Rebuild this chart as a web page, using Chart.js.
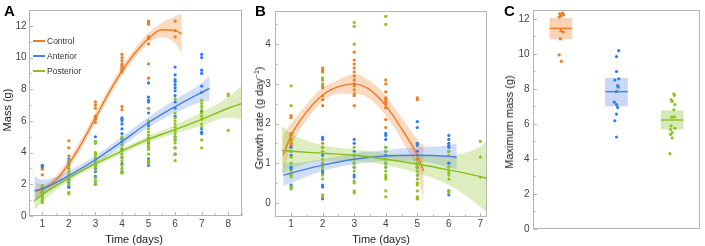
<!DOCTYPE html>
<html><head><meta charset="utf-8">
<script src="https://cdn.jsdelivr.net/npm/chart.js@4.4.1/dist/chart.umd.min.js"></script>
<style>
html,body{margin:0;padding:0;background:#fff;width:705px;height:246px;overflow:hidden;font-family:"Liberation Sans",Arial,sans-serif;color:#222;}
canvas{position:absolute;top:0;}
.letter{position:absolute;font-weight:bold;font-size:15px;line-height:15px;color:#000;}
.ytitle{position:absolute;font-size:11px;line-height:12px;white-space:nowrap;transform:translate(-50%,-50%) rotate(-90deg);color:#222;}
.xtitle{position:absolute;font-size:11px;line-height:12px;white-space:nowrap;transform:translate(-50%,-50%);color:#222;}
.ytitle sup{font-size:7px;vertical-align:4px;line-height:0;}
.leg{position:absolute;font-size:8.5px;line-height:10px;color:#333;white-space:nowrap;}
.leg span{position:absolute;left:-14px;top:4px;width:12px;height:2px;}
</style></head>
<body>
<canvas id="cA" width="246" height="246" style="left:0"></canvas>
<canvas id="cB" width="246" height="246" style="left:246px"></canvas>
<canvas id="cC" width="213" height="246" style="left:492px"></canvas>

<div class="letter" style="left:4px;top:2.5px">A</div>
<div class="letter" style="left:255px;top:2.5px">B</div>
<div class="letter" style="left:504px;top:2.5px">C</div>

<div class="ytitle" style="left:7px;top:110px">Mass (g)</div>
<div class="xtitle" style="left:134px;top:239px">Time (days)</div>
<div class="ytitle" style="left:259px;top:118px">Growth rate (g day<sup>−1</sup>)</div>
<div class="xtitle" style="left:381px;top:239px">Time (days)</div>
<div class="ytitle" style="left:509px;top:122px">Maximum mass (g)</div>

<div class="leg" style="left:47px;top:36px"><span style="background:#ee7b22"></span>Control</div>
<div class="leg" style="left:47px;top:51px"><span style="background:#4a7fdf"></span>Anterior</div>
<div class="leg" style="left:47px;top:66px"><span style="background:#8cc220"></span>Posterior</div>

<script>
// ---------- Panel A: mass by day ----------
const daysA = [1,2,3,4,5,6,7,8];
const massControl = [
  [3.05,2.95,2.6,1.8,1.7,1.6,1.5],
  [4.75,4.3,3.8,3.5,3.3,3.2],
  [7.2,7.0,6.8,6.3,6.2,6.1,5.9,3.9],
  [10.2,10.0,9.8,9.6,9.5,9.4,9.3,9.2,9.1,6.9,6.7],
  [12.3,12.2,12.1,11.3,11.2,10.85,9.6,8.7],
  [12.3,11.7,11.3],
  [],
  []
];
const massAnterior = [
  [3.2,3.1,1.9,1.7,1.5,1.3],
  [3.6,3.4,3.0,2.6,2.3,2.1,1.9,1.8],
  [5.0,4.7,4.6,3.6,3.3,3.0,2.8,2.5,2.2,2.0],
  [6.2,6.1,6.0,5.8,5.5,5.2,4.9,4.7,4.5,4.2,3.7,3.3,2.8],
  [8.4,7.5,7.3,7.2,6.8,6.5,5.9,5.7,4.9,4.6,3.6,3.4,3.2],
  [9.4,8.9,8.6,8.5,8.3,8.1,7.9,7.6,7.2,6.8,6.3,5.0,4.8,4.3,3.9],
  [10.2,10.0,9.2,9.0,8.2,7.8,6.6,5.5,5.3,5.2],
  []
];
const massPosterior = [
  [1.9,1.8,1.7,1.6,1.5,1.4,1.3,1.2,1.1,1.0,0.9,0.85],
  [3.5,3.2,3.0,2.8,2.6,2.4,2.2,2.0,1.5,1.4],
  [4.7,4.6,4.0,3.9,3.7,3.5,3.2,3.1,2.9,2.4,2.2,2.0],
  [5.0,4.8,4.5,4.3,4.1,3.9,3.7,3.5,3.2,3.0,2.8,2.7],
  [6.8,6.0,5.5,5.3,5.1,4.9,4.7,4.5,4.4,4.3,4.2,3.9,3.5,3.3],
  [7.4,6.5,6.2,6.0,5.8,5.6,5.4,5.2,5.0,4.8,4.6,4.3,3.9,3.5],
  [7.3,7.1,6.9,6.7,6.5,6.3,6.1,5.8,5.6,4.8,4.3],
  [7.7,7.6,5.4]
];
// fitted curves and confidence bands
const fitAControlX = [0.75,1,1.5,2,2.5,3,3.5,4,4.5,5,5.5,6,6.25];
const fitAControl  = [1.55,1.7,2.25,3.3,4.65,6.2,7.75,9.15,10.3,11.2,11.75,11.7,11.5];
const loAControl   = [1.05,1.4,1.95,3.0,4.35,5.9,7.45,8.85,10.0,10.9,11.3,10.9,10.3];
const hiAControl   = [2.1,2.0,2.5,3.6,4.95,6.5,8.05,9.45,10.6,11.55,12.2,12.6,12.8];
const fitAAnteriorX = [0.7,1,1.5,2,3,4,5,6,7,7.3];
const fitAAnterior  = [1.6,1.72,2.1,2.55,3.55,4.7,5.9,6.9,7.8,8.05];
const loAAnterior   = [0.95,1.25,1.8,2.3,3.3,4.4,5.6,6.5,7.2,7.25];
const hiAAnterior   = [2.5,2.3,2.45,2.85,3.8,5.0,6.25,7.35,8.4,8.85];
const fitAPosteriorX = [0.7,1,2,3,4,5,6,7,8,8.5];
const fitAPosterior  = [0.95,1.35,2.4,3.3,4.1,4.85,5.45,6.1,6.8,7.1];
const loAPosterior   = [0.35,0.9,2.2,3.12,3.93,4.65,5.2,5.7,6.2,6.1];
const hiAPosterior   = [1.6,1.75,2.6,3.5,4.28,5.05,5.75,6.55,7.5,8.2];

// ---------- Panel B: growth rate by day ----------
const daysB = [1,2,3,4,5,6,7];
const rateControl = [
  [2.2,2.15,1.75,1.7,1.6,1.5,1.45],
  [3.4,3.35,3.3,3.1,2.95,2.9,2.7,2.6,2.45,1.5],
  [3.8,3.6,3.5,3.4,3.3,3.2,3.1,3.0,2.95,2.85,2.75,2.7,2.45],
  [3.1,3.0,2.8,2.65,2.6,2.55,2.5,2.4,2.1,1.9],
  [2.65,2.6,1.1,1.0,0.5,0.1],
  [],
  []
];
const rateAnterior = [
  [1.4,1.3,1.2,0.9,0.85,0.7,0.45,0.4],
  [1.65,1.6,1.4,1.2,1.0,0.8,0.75,0.45,0.4,0.1],
  [1.6,1.5,1.3,1.2,1.0,0.9,0.7,0.65],
  [1.75,1.7,1.6,1.4,1.3,1.2,1.0,0.9],
  [2.05,1.9,1.5,1.45,1.3,1.2,1.0,0.9,0.7],
  [1.7,1.6,1.5,1.45,1.4,1.3,1.0,0.3,0.2],
  []
];
const ratePosterior = [
  [2.95,2.45,1.7,1.55,1.3,1.15,1.0,0.8,0.7,0.65,0.4,0.35],
  [3.15,3.0,1.4,1.3,1.1,1.0,0.9,0.85,0.7,0.6,0.2,0.15],
  [4.55,4.45,4.0,1.4,1.2,1.1,1.0,0.9,0.8,0.55,0.5,0.3,0.25],
  [4.7,4.5,1.4,1.3,1.1,1.0,0.9,0.8,0.7,0.65,0.6,0.3,0.15],
  [1.0,0.9,0.8,0.7,0.6,0.5,0.45,0.3,0.15,0.1],
  [1.3,1.2,0.9,0.8,0.75,0.7,0.6,0.3,0.25],
  [1.55,1.15,0.65]
];
const fitBControlX = [0.75,1,1.5,2,2.5,3,3.5,4,4.5,5,5.2];
const fitBControl  = [1.2,1.7,2.3,2.72,2.93,3.0,2.85,2.45,1.87,1.2,0.8];
const loBControl   = [0.75,1.4,2.1,2.55,2.75,2.75,2.62,2.2,1.6,0.75,0.05];
const hiBControl   = [1.75,2.0,2.5,2.9,3.1,3.25,3.08,2.7,2.15,1.6,1.45];
const fitBAnteriorX = [0.75,1,2,3,4,5,6,6.25];
const fitBAnterior  = [0.7,0.75,0.95,1.1,1.18,1.2,1.17,1.15];
const loBAnterior   = [0.42,0.5,0.8,0.97,1.05,1.05,0.9,0.85];
const hiBAnterior   = [1.0,1.0,1.1,1.25,1.33,1.4,1.45,1.5];
const fitBPosteriorX = [0.7,1,2,3,4,5,6,7,7.2];
const fitBPosterior  = [1.32,1.3,1.25,1.2,1.1,0.98,0.83,0.66,0.62];
const loBPosterior   = [0.72,0.85,1.05,1.05,0.95,0.75,0.45,-0.1,-0.25];
const hiBPosterior   = [1.95,1.75,1.45,1.35,1.25,1.2,1.2,1.42,1.55];

// ---------- Panel C: maximum mass ----------
const groups = ['Control','Anterior','Posterior'];
const maxControl   = [12.33,12.28,12.22,12.16,12.1,11.32,11.25,10.85,9.94,9.57];
const jitControl   = [0.03,-0.02,0.05,0.0,-0.03,0.0,0.04,-0.01,-0.03,0.01];
const maxAnterior  = [10.18,9.84,8.99,8.57,8.5,8.19,8.1,7.85,7.24,7.1,6.94,6.56,6.18,5.25];
const jitAnterior  = [0.04,0.0,0.0,0.04,-0.03,0.02,0.03,0.0,-0.04,0.0,0.02,0.0,-0.03,0.0];
const maxPosterior = [7.72,7.62,7.38,7.28,7.1,6.8,6.4,6.38,5.89,5.75,5.68,5.5,5.4,5.2,4.3];
const jitPosterior = [0.03,0.04,-0.02,0.0,0.05,0.03,0.04,-0.01,-0.02,0.05,-0.03,0.0,-0.03,0.0,-0.04];
const boxLow  = [10.85,7.02,5.7];
const boxHigh = [12.02,8.6,6.75];
const boxMid  = [11.45,7.84,6.22];

// ---------- styles ----------
const COL = {
  line:  ['#ee7b22','#4a7fdf','#86c01e'],
  point: ['#f07d21','#2f7df4','#8dc51e'],
  band:  ['rgba(243,150,80,0.35)','rgba(90,135,230,0.28)','rgba(150,200,60,0.32)'],
  box:   ['rgba(243,150,80,0.42)','rgba(90,135,230,0.32)','rgba(150,200,60,0.38)']
};
Chart.defaults.font.family = '"Liberation Sans", Arial, sans-serif';
Chart.defaults.font.size = 10;
Chart.defaults.color = '#444';

const framePlugin = {
  id: 'frame',
  afterDraw(chart, args, opts) {
    const {ctx, chartArea: a} = chart;
    ctx.save();
    ctx.strokeStyle = '#b5b5b5';
    ctx.lineWidth = 1;
    const l = Math.round(a.left) + 0.5, t = Math.round(a.top) + 0.5;
    const r = Math.round(a.right) - 0.5, b = Math.round(a.bottom) - 0.5;
    ctx.strokeRect(l, t, r - l, b - t);
    ctx.beginPath();
    if (opts.xTicks) {
      const sx = chart.scales.x;
      sx.ticks.forEach(tk => {
        const px = Math.round(sx.getPixelForValue(tk.value)) + 0.5;
        const len = tk.label !== '' ? 3.5 : 2;
        ctx.moveTo(px, b); ctx.lineTo(px, b - len);
      });
    }
    const sy = chart.scales.y;
    sy.ticks.forEach(tk => {
      const py = Math.round(sy.getPixelForValue(tk.value)) + 0.5;
      const len = tk.label !== '' ? 3.5 : 2;
      ctx.moveTo(l, py); ctx.lineTo(l + len, py);
    });
    ctx.stroke();
    ctx.restore();
  }
};

function isInt(v){ return Math.abs(v - Math.round(v)) < 1e-6; }
function pts(days, groupsArr){ const out=[]; groupsArr.forEach((vals,i)=>vals.forEach(v=>out.push({x:days[i],y:v}))); return out; }
function xy(xs, ys){ return xs.map((x,i)=>({x:x,y:ys[i]})); }

function bandSets(xs, lo, hi, i){
  return [
    {type:'line', data: xy(xs,hi), borderWidth:0, pointRadius:0, fill:'+1', backgroundColor: COL.band[i], cubicInterpolationMode:'monotone', order: 20 - i},
    {type:'line', data: xy(xs,lo), borderWidth:0, pointRadius:0, fill:false, cubicInterpolationMode:'monotone', order: 20 - i}
  ];
}
function pointSet(data, i){
  return {type:'scatter', data, pointRadius:1.6, pointBackgroundColor: COL.point[i], pointBorderWidth:0, borderWidth:0, order: 10 - i};
}
function lineSet(xs, ys, i){
  return {type:'line', data: xy(xs,ys), borderColor: COL.line[i], borderWidth:1.4, pointRadius:0, fill:false, cubicInterpolationMode:'monotone', order: 3 - i};
}

function baseOptions(cfg){
  return {
    responsive:false, animation:false, events:[],
    layout:{padding:{left:0, top:10, right:cfg.padRight, bottom:0}},
    plugins:{legend:{display:false}, tooltip:{enabled:false}, frame:{xTicks: cfg.xTicks}},
    scales:{
      x:{type:'linear', min:cfg.xmin, max:cfg.xmax, offset:false,
         grid:{display:false, drawTicks:false, offset:false}, border:{display:false},
         ticks:{stepSize:cfg.xstep, includeBounds:false, autoSkip:false, maxRotation:0, padding:cfg.xpad,
                font:{size:cfg.xfont||10}, callback:cfg.xcb},
         afterFit(s){ s.height = cfg.xh; }},
      y:{type:'linear', min:cfg.ymin, max:cfg.ymax,
         grid:{display:false, drawTicks:false}, border:{display:false},
         ticks:{stepSize:cfg.ystep, includeBounds:false, autoSkip:false, padding:cfg.ypad, callback:cfg.ycb},
         afterFit(s){ s.width = cfg.yw; }}
    }
  };
}

// Panel A
new Chart(document.getElementById('cA'), {
  type:'scatter',
  data:{datasets:[
    ...bandSets(fitAControlX, loAControl, hiAControl, 0),
    ...bandSets(fitAAnteriorX, loAAnterior, hiAAnterior, 1),
    ...bandSets(fitAPosteriorX, loAPosterior, hiAPosterior, 2),
    pointSet(pts(daysA, massControl), 0),
    pointSet(pts(daysA, massAnterior), 1),
    pointSet(pts(daysA, massPosterior), 2),
    lineSet(fitAControlX, fitAControl, 0),
    lineSet(fitAAnteriorX, fitAAnterior, 1),
    lineSet(fitAPosteriorX, fitAPosterior, 2)
  ]},
  options: baseOptions({padRight:4.5, xTicks:true, xmin:0.5, xmax:8.5, xstep:0.5, xpad:2,
    xcb:v=>isInt(v)?String(Math.round(v)):'', xh:30,
    ymin:0, ymax:13, ystep:1, ypad:2.5, ycb:v=>(isInt(v)&&Math.round(v)%2===0)?String(Math.round(v)):'', yw:29}),
  plugins:[framePlugin]
});

// Panel B
new Chart(document.getElementById('cB'), {
  type:'scatter',
  data:{datasets:[
    ...bandSets(fitBControlX, loBControl, hiBControl, 0),
    ...bandSets(fitBAnteriorX, loBAnterior, hiBAnterior, 1),
    ...bandSets(fitBPosteriorX, loBPosterior, hiBPosterior, 2),
    pointSet(pts(daysB, rateControl), 0),
    pointSet(pts(daysB, rateAnterior), 1),
    pointSet(pts(daysB, ratePosterior), 2),
    lineSet(fitBControlX, fitBControl, 0),
    lineSet(fitBAnteriorX, fitBAnterior, 1),
    lineSet(fitBPosteriorX, fitBPosterior, 2)
  ]},
  options: baseOptions({padRight:5.3, xTicks:true, xmin:0.5, xmax:7.2, xstep:0.5, xpad:2,
    xcb:v=>isInt(v)?String(Math.round(v)):'', xh:29.3,
    ymin:-0.35, ymax:4.85, ystep:0.5, ypad:4.5, ycb:v=>isInt(v)?String(Math.round(v)):'', yw:29.3}),
  plugins:[framePlugin]
});

// Panel C
const cDatasets = [{
  type:'bar', grouped:false,
  data: groups.map((g,i)=>({x:i+1, y:[boxLow[i], boxHigh[i]]})),
  backgroundColor: COL.box, borderWidth:0, barThickness:22, order: 20
}];
[[maxControl,jitControl],[maxAnterior,jitAnterior],[maxPosterior,jitPosterior]].forEach(([vals,jit],i)=>{
  cDatasets.push(pointSet(vals.map((v,k)=>({x:i+1+jit[k], y:v})), i));
});
groups.forEach((g,i)=>{
  cDatasets.push({type:'line', data:[{x:i+1-0.2,y:boxMid[i]},{x:i+1+0.2,y:boxMid[i]}], borderColor: COL.line[i], borderWidth:1.4, pointRadius:0, fill:false, order: 3 - i});
});
new Chart(document.getElementById('cC'), {
  type:'scatter',
  data:{datasets:cDatasets},
  options: baseOptions({padRight:5, xTicks:false, xmin:0.5, xmax:3.5, xstep:1, xpad:4, xfont:11,
    xcb:v=>isInt(v)?groups[Math.round(v)-1]:'', xh:17,
    ymin:0, ymax:12.5, ystep:1, ypad:3.5, ycb:v=>(isInt(v)&&Math.round(v)%2===0)?String(Math.round(v)):'', yw:41}),
  plugins:[framePlugin]
});
</script>
</body></html>
